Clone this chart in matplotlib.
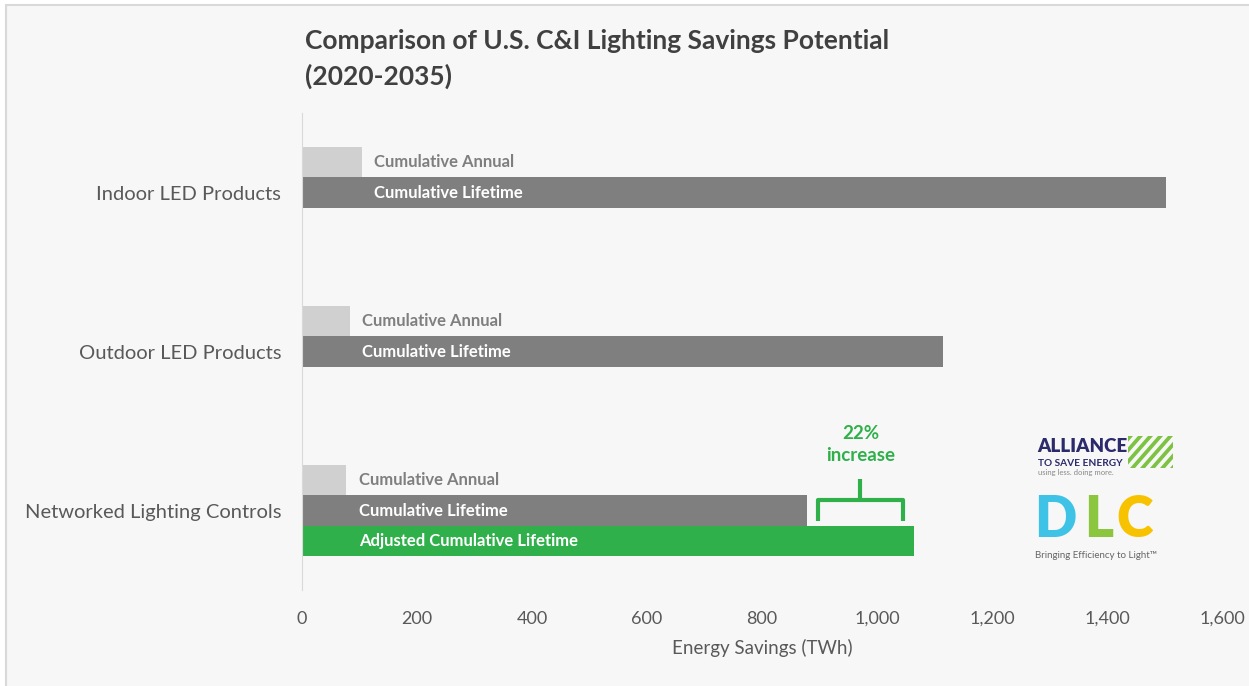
import matplotlib.pyplot as plt
import matplotlib.patches as mpatches
import numpy as np

plt.rcParams['font.family'] = ['Lato', 'DejaVu Sans']

# Data
categories = ["Indoor LED Products", "Outdoor LED Products", "Networked Lighting Controls"]
cumulative_annual = [104, 83, 77]
cumulative_lifetime = [1503, 1115, 878]
adjusted_lifetime = [0, 0, 1064]
xticks = [0, 200, 400, 600, 800, 1000, 1200, 1400, 1600]

BG = '#f7f7f7'
C_ANNUAL = '#d0d0d0'
C_LIFE = '#7f7f7f'
C_ADJ = '#2fb04b'
TXT = '#595959'

fig = plt.figure(figsize=[12.49, 6.86], dpi=100, facecolor='white')
W, H = 1249, 686
# panel background with border
fig.patches.append(mpatches.Rectangle((6 / W, -0.01), 1.1, (H - 5) / H + 0.01, transform=fig.transFigure,
                                      facecolor=BG, edgecolor='#d9d9d9', linewidth=1.5, zorder=-10))

ax = fig.add_axes([302 / W, 1 - 590 / H, 920 / W, 477 / H])
ax.set_facecolor(BG)

y = np.arange(len(categories))
h = 0.19
ax.barh(y - h, cumulative_annual, height=h, color=C_ANNUAL)
ax.barh(y, cumulative_lifetime, height=h, color=C_LIFE)
ax.barh(y + h, adjusted_lifetime, height=h, color=C_ADJ)

for i in range(len(categories)):
    xt = cumulative_annual[i] + 22
    ax.text(xt, y[i] - h, "Cumulative Annual", color='#7f7f7f', fontweight='bold',
            fontsize=12, va='center', ha='left')
    ax.text(xt, y[i], "Cumulative Lifetime", color='white', fontweight='bold',
            fontsize=12, va='center', ha='left')
    if adjusted_lifetime[i] > 0:
        ax.text(xt, y[i] + h, "Adjusted Cumulative Lifetime", color='white', fontweight='bold',
                fontsize=12, va='center', ha='left')

# bracket for increase
x0, x1 = 897, 1045
xm = (x0 + x1) / 2
yb, yt, ys = 2.063, 1.935, 1.80
ax.plot([x0, x0, x1, x1], [yb, yt, yt, yb], color=C_ADJ, lw=3, solid_joinstyle='round',
        solid_capstyle='butt')
ax.plot([xm, xm], [yt, ys], color=C_ADJ, lw=3, solid_capstyle='butt')
ax.text(xm, 1.585, "22%\nincrease", color=C_ADJ, fontweight='bold', fontsize=13.5,
        ha='center', va='center', linespacing=1.3)

ax.set_xlim(0, 1600)
ax.set_ylim(2.5, -0.5)
ax.set_yticks(y)
ax.set_yticklabels(categories, fontsize=14.5, color=TXT)
ax.set_xticks(xticks)
ax.set_xticklabels([f"{v:,}" for v in xticks], fontsize=13, color=TXT)
ax.tick_params(axis='both', length=0)
ax.tick_params(axis='x', pad=15)
ax.tick_params(axis='y', pad=15)
ax.set_xlabel("Energy Savings (TWh)", fontsize=13.5, color=TXT, labelpad=9)
for s in ['top', 'right', 'bottom']:
    ax.spines[s].set_visible(False)
ax.spines['left'].set_color('#d9d9d9')

fig.text(305 / W, 1 - 41 / H, "Comparison of U.S. C&I Lighting Savings Potential",
         fontsize=19, fontweight='bold', color='#404040', va='center', ha='left')
fig.text(305 / W, 1 - 76 / H, "(2020-2035)",
         fontsize=19, fontweight='bold', color='#404040', va='center', ha='left')

# logos (approximate)
fig.text(1037 / W, 1 - 446 / H, "ALLIANCE", fontsize=13.5, fontweight='heavy', color='#2b2a6b',
         va='center', ha='left')
fig.text(1038 / W, 1 - 463 / H, "TO SAVE ENERGY", fontsize=7.3, fontweight='bold', color='#2b2a6b',
         va='center', ha='left')
fig.text(1038 / W, 1 - 473 / H, "using less. doing more.", fontsize=5.5, color='#888888',
         va='center', ha='left')
clip = mpatches.Rectangle((1128 / W, 1 - 468 / H), 45 / W, 32 / H, transform=fig.transFigure,
                          facecolor='none', edgecolor='none')
fig.patches.append(clip)
for k in range(-3, 6):
    xs = 1130 + k * 10
    poly = mpatches.Polygon([((xs) / W, 1 - 468 / H), ((xs + 5) / W, 1 - 468 / H),
                             ((xs + 5 + 28) / W, 1 - 436 / H), ((xs + 28) / W, 1 - 436 / H)],
                            closed=True, transform=fig.transFigure, facecolor='#7dc242',
                            edgecolor='none')
    poly.set_clip_path(clip)
    fig.patches.append(poly)

fig.text(1034 / W, 1 - 520 / H, "D", fontsize=40, fontweight='heavy', color='#3ec3e6', va='center', ha='left')
fig.text(1084 / W, 1 - 520 / H, "L", fontsize=40, fontweight='heavy', color='#8cc63f', va='center', ha='left')
fig.text(1116 / W, 1 - 520 / H, "C", fontsize=40, fontweight='heavy', color='#f7c300', va='center', ha='left')
fig.text(1035 / W, 1 - 555 / H, "Bringing Efficiency to Light\u2122", fontsize=7, color='#666666',
         va='center', ha='left')

fig.savefig("out.png", dpi=100, facecolor=fig.get_facecolor())
